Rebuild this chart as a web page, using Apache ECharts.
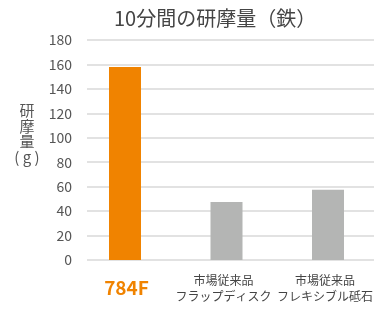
<!DOCTYPE html>
<html><head><meta charset="utf-8">
<script src="https://cdn.jsdelivr.net/npm/echarts@6/dist/echarts.min.js"></script>
<style>html,body{margin:0;padding:0;background:#fff}#c{width:385px;height:309px}</style>
</head><body><div id="c"></div>
<script>
const titleText = '10分間の研摩量（鉄）';
const yName = '研\n摩\n量\n( g )';
const categories = ['784F', '市場従来品\nフラップディスク', '市場従来品\nフレキシブル砥石'];
const values = [158, 47.5, 57.5];
const barColors = ['#F08300', '#B4B5B4', '#B4B5B4'];
const yMin = 0, yMax = 180, yInterval = 20;

const FONT = '"Noto Sans CJK JP", "Noto Sans", sans-serif';
const chart = echarts.init(document.getElementById('c'), null, {renderer: 'canvas'});
chart.setOption({
  animation: false,
  title: {
    text: titleText, left: 109, top: 3,
    textStyle: {fontFamily: FONT, fontSize: 20, fontWeight: 'normal', color: '#444'}
  },
  graphic: [{
    type: 'text', x: 27, y: 103,
    style: {text: yName, fontFamily: FONT, fontSize: 15, lineHeight: 15.5, fill: '#555', align: 'center', textAlign: 'center'}
  }],
  grid: [
    {left: 87, right: 11, top: 40, bottom: 49},
    {left: 74.25, right: 6.25, top: 40, bottom: 49}
  ],
  xAxis: [
    {type: 'category', gridIndex: 0, data: categories, show: false},
    {type: 'category', gridIndex: 1, data: categories,
     axisLine: {show: false}, axisTick: {show: false},
     axisLabel: {
       margin: 12, interval: 0, fontFamily: FONT, fontSize: 12, lineHeight: 16, color: '#444',
       formatter: function (v, i) { return i === 0 ? '{a|' + v + '}' : '{b|' + v + '}'; },
       rich: {
         a: {fontFamily: FONT, fontSize: 19, fontWeight: 'bold', color: '#F08300', lineHeight: 32, padding: [0, 0, 0, 3]},
         b: {fontFamily: FONT, fontSize: 12, lineHeight: 16, color: '#444', padding: [0, 6, 0, 0]}
       }
     }}
  ],
  yAxis: [
    {type: 'value', gridIndex: 0, min: yMin, max: yMax, interval: yInterval,
     axisLine: {show: false}, axisTick: {show: false},
     axisLabel: {margin: 15, fontFamily: FONT, fontSize: 14, color: '#555'},
     splitLine: {lineStyle: {color: '#e2e2e2', width: 2}}},
    {type: 'value', gridIndex: 1, min: yMin, max: yMax, interval: yInterval, show: false,
     splitLine: {show: false}}
  ],
  series: [{
    type: 'bar', xAxisIndex: 1, yAxisIndex: 1, barWidth: 32,
    data: values.map((v, i) => ({value: v, itemStyle: {color: barColors[i]}}))
  }]
});
</script></body></html>
